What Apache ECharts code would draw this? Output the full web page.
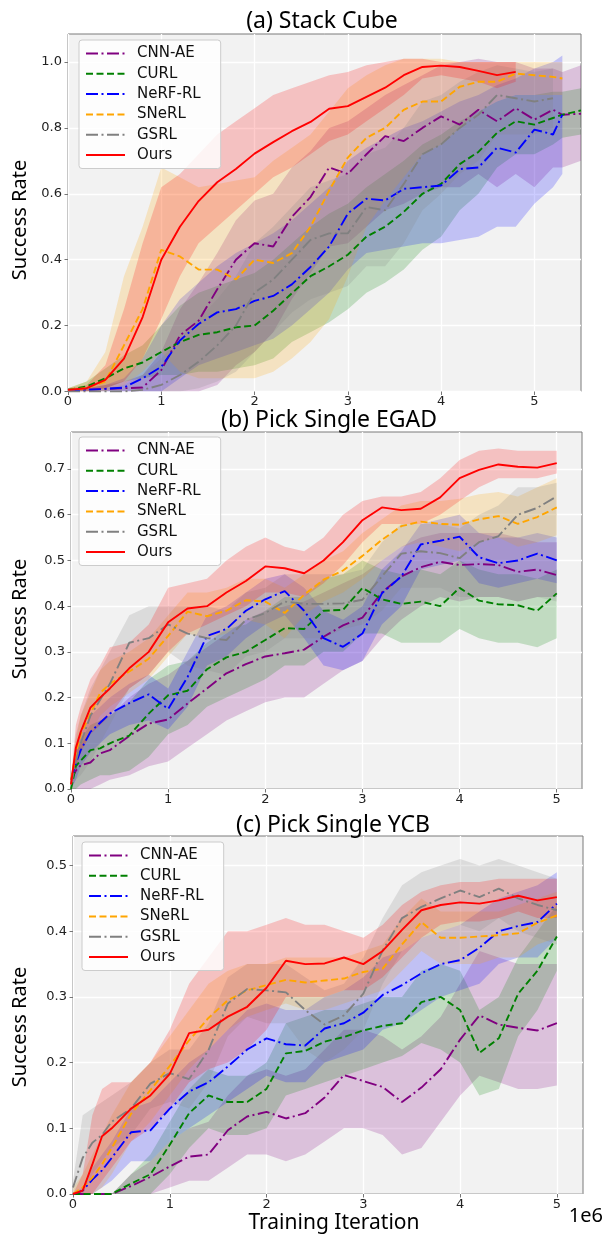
<!DOCTYPE html>
<html>
<head>
<meta charset="utf-8">
<script src="https://cdn.jsdelivr.net/npm/echarts@6/dist/echarts.min.js"></script>
<style>
html,body{margin:0;padding:0;background:#ffffff;}
#chart{width:605px;height:1234px;}
</style>
</head>
<body>
<div id="chart"></div>
<script>
// ---------- shared ----------
const NAMES = ['CNN-AE', 'CURL', 'NeRF-RL', 'SNeRL', 'GSRL', 'Ours'];
const TITLES = ['(a) Stack Cube', '(b) Pick Single EGAD', '(c) Pick Single YCB'];
const X_TICKS = [0, 1, 2, 3, 4, 5];
const Y_TICKS_A = [0, 0.2, 0.4, 0.6, 0.8, 1.0];
const Y_TICKS_B = [0, 0.1, 0.2, 0.3, 0.4, 0.5, 0.6, 0.7];
const Y_TICKS_C = [0, 0.1, 0.2, 0.3, 0.4, 0.5];

// ---------- (a) Stack Cube  (x in 1e6 iterations) ----------
const A_X = [0,0.2,0.4,0.6,0.8,1.0,1.2,1.4,1.6,1.8,2.0,2.2,2.4,2.6,2.8,3.0,3.2,3.4,3.6,3.8,4.0,4.2,4.4,4.6,4.8,5.0,5.2,5.3,5.5];
const A_CNN    = [0.005,0.005,0.008,0.01,0.012,0.065,0.17,0.215,0.31,0.40,0.45,0.44,0.53,0.59,0.68,0.66,0.72,0.775,0.76,0.80,0.835,0.81,0.855,0.82,0.86,0.825,0.855,0.84,0.843];
const A_CNN_HI = [0.01,0.01,0.02,0.03,0.05,0.12,0.25,0.33,0.42,0.52,0.58,0.6,0.68,0.73,0.8,0.82,0.86,0.9,0.93,0.96,0.99,1.0,1.01,1.0,1.0,0.98,0.98,0.97,0.99];
const A_CNN_LO = [0,0,0,0,0,0,0,0,0.02,0.08,0.12,0.18,0.28,0.36,0.44,0.45,0.5,0.55,0.57,0.6,0.62,0.62,0.66,0.62,0.66,0.62,0.68,0.68,0.7];
const A_CURL    = [0.005,0.015,0.04,0.07,0.088,0.12,0.15,0.172,0.18,0.195,0.2,0.245,0.298,0.35,0.38,0.415,0.47,0.5,0.545,0.6,0.63,0.69,0.727,0.785,0.82,0.81,0.83,0.84,0.853];
const A_CURL_HI = [0.01,0.03,0.07,0.11,0.14,0.2,0.26,0.3,0.32,0.34,0.36,0.4,0.45,0.5,0.54,0.57,0.62,0.66,0.7,0.75,0.78,0.82,0.85,0.88,0.9,0.9,0.91,0.91,0.92];
const A_CURL_LO = [0,0,0.01,0.03,0.04,0.05,0.05,0.06,0.06,0.07,0.08,0.1,0.15,0.18,0.21,0.25,0.3,0.33,0.37,0.43,0.47,0.55,0.6,0.68,0.72,0.72,0.75,0.77,0.78];
const A_NERF    = [0.003,0.005,0.008,0.012,0.04,0.075,0.155,0.205,0.24,0.25,0.275,0.29,0.325,0.378,0.44,0.54,0.585,0.58,0.615,0.62,0.625,0.675,0.68,0.74,0.725,0.795,0.78,0.84];
const A_NERF_HI = [0.01,0.01,0.02,0.04,0.1,0.2,0.28,0.33,0.38,0.42,0.45,0.48,0.52,0.57,0.62,0.7,0.74,0.77,0.8,0.82,0.85,0.88,0.9,0.93,0.95,0.98,1.0,1.02];
const A_NERF_LO = [0,0,0,0,0,0,0.04,0.08,0.1,0.12,0.14,0.16,0.2,0.25,0.3,0.37,0.42,0.43,0.44,0.45,0.45,0.46,0.47,0.5,0.5,0.57,0.62,0.66];
const A_SNERL    = [0.005,0.01,0.03,0.14,0.25,0.43,0.41,0.37,0.37,0.34,0.40,0.39,0.42,0.5,0.61,0.71,0.77,0.80,0.855,0.88,0.88,0.925,0.94,0.94,0.965,0.96,0.955,0.95];
const A_SNERL_HI = [0.01,0.03,0.12,0.35,0.5,0.68,0.65,0.62,0.63,0.64,0.65,0.7,0.74,0.78,0.85,0.92,0.96,0.99,1.01,1.01,1.01,1.0,1.0,1.0,1.0,1.0,1.0,1.0];
const A_SNERL_LO = [0,0,0,0.02,0.06,0.12,0.06,0.04,0.04,0.04,0.04,0.06,0.1,0.15,0.22,0.35,0.5,0.58,0.65,0.72,0.75,0.8,0.85,0.88,0.9,0.9,0.9,0.9];
const A_GSRL    = [0,0,0,0,0.005,0.02,0.05,0.09,0.14,0.2,0.3,0.34,0.40,0.46,0.48,0.48,0.56,0.55,0.63,0.72,0.75,0.8,0.84,0.9,0.89,0.88,0.89];
const A_GSRL_HI = [0,0,0.01,0.02,0.05,0.1,0.16,0.22,0.28,0.35,0.45,0.5,0.56,0.62,0.64,0.66,0.72,0.74,0.8,0.88,0.9,0.94,0.97,0.99,0.98,0.97,0.98];
const A_GSRL_LO = [0,0,0,0,0,0,0,0.01,0.03,0.06,0.12,0.18,0.24,0.28,0.3,0.32,0.38,0.38,0.45,0.55,0.6,0.66,0.7,0.78,0.78,0.78,0.8];
const A_OURS    = [0.005,0.01,0.035,0.10,0.226,0.40,0.50,0.578,0.635,0.675,0.722,0.757,0.79,0.818,0.858,0.866,0.894,0.922,0.96,0.985,0.989,0.985,0.973,0.96,0.97];
const A_OURS_HI = [0.01,0.02,0.08,0.25,0.45,0.62,0.66,0.72,0.78,0.82,0.86,0.9,0.92,0.94,0.96,0.97,0.99,1.0,1.01,1.01,1.0,1.0,1.0,1.0,1.0];
const A_OURS_LO = [0,0,0.01,0.03,0.1,0.22,0.35,0.45,0.5,0.55,0.6,0.65,0.68,0.72,0.76,0.78,0.82,0.86,0.9,0.95,0.96,0.95,0.94,0.92,0.94];

// ---------- (b) Pick Single EGAD ----------
const B_X = [0,0.05,0.1,0.2,0.3,0.4,0.6,0.8,1.0,1.2,1.4,1.6,1.8,2.0,2.2,2.4,2.6,2.8,3.0,3.2,3.4,3.6,3.8,4.0,4.2,4.4,4.6,4.8,5.0];
const B_CNN    = [0.02,0.04,0.052,0.058,0.078,0.085,0.116,0.143,0.152,0.187,0.22,0.253,0.273,0.29,0.297,0.305,0.333,0.358,0.375,0.43,0.465,0.485,0.497,0.49,0.492,0.49,0.475,0.48,0.468];
const B_CNN_HI = [0.03,0.09,0.1,0.12,0.15,0.16,0.2,0.23,0.25,0.28,0.31,0.34,0.37,0.39,0.4,0.41,0.43,0.45,0.47,0.5,0.53,0.55,0.56,0.56,0.56,0.56,0.55,0.54,0.54];
const B_CNN_LO = [0,0,0,0,0.01,0.02,0.03,0.05,0.06,0.09,0.12,0.15,0.17,0.19,0.2,0.2,0.23,0.26,0.28,0.33,0.37,0.4,0.42,0.41,0.42,0.42,0.41,0.42,0.42];
const B_CURL    = [0,0.05,0.062,0.085,0.089,0.1,0.117,0.165,0.205,0.215,0.262,0.288,0.3,0.326,0.352,0.35,0.39,0.392,0.44,0.415,0.405,0.41,0.4,0.44,0.412,0.404,0.402,0.39,0.428];
const B_CURL_HI = [0.01,0.09,0.11,0.14,0.15,0.16,0.19,0.24,0.27,0.28,0.32,0.35,0.36,0.39,0.42,0.42,0.46,0.47,0.5,0.48,0.47,0.48,0.47,0.5,0.48,0.47,0.47,0.46,0.48];
const B_CURL_LO = [0,0,0.01,0.02,0.03,0.03,0.04,0.07,0.12,0.14,0.18,0.2,0.22,0.24,0.27,0.27,0.3,0.3,0.34,0.34,0.32,0.32,0.32,0.35,0.33,0.32,0.32,0.31,0.33];
const B_NERF    = [0.02,0.056,0.085,0.125,0.145,0.165,0.188,0.207,0.175,0.245,0.335,0.35,0.39,0.415,0.433,0.39,0.33,0.311,0.34,0.428,0.465,0.535,0.543,0.552,0.507,0.494,0.5,0.515,0.5];
const B_NERF_HI = [0.03,0.09,0.12,0.16,0.18,0.2,0.23,0.25,0.22,0.3,0.38,0.4,0.43,0.46,0.47,0.44,0.39,0.37,0.4,0.48,0.52,0.58,0.59,0.6,0.56,0.55,0.55,0.56,0.55];
const B_NERF_LO = [0,0.02,0.05,0.08,0.1,0.12,0.14,0.15,0.13,0.18,0.27,0.29,0.33,0.36,0.38,0.33,0.27,0.26,0.28,0.36,0.4,0.48,0.49,0.5,0.45,0.44,0.45,0.46,0.45];
const B_SNERL    = [0.02,0.078,0.12,0.165,0.21,0.23,0.257,0.285,0.335,0.388,0.378,0.39,0.413,0.41,0.385,0.425,0.458,0.478,0.51,0.545,0.575,0.585,0.58,0.578,0.59,0.597,0.58,0.595,0.616];
const B_SNERL_HI = [0.03,0.11,0.16,0.21,0.26,0.28,0.3,0.33,0.38,0.43,0.43,0.44,0.46,0.46,0.44,0.47,0.5,0.52,0.56,0.59,0.62,0.63,0.63,0.635,0.645,0.65,0.64,0.66,0.68];
const B_SNERL_LO = [0,0.05,0.08,0.12,0.16,0.18,0.21,0.24,0.29,0.34,0.33,0.34,0.37,0.36,0.33,0.38,0.41,0.43,0.46,0.5,0.53,0.54,0.53,0.52,0.54,0.55,0.53,0.54,0.555];
const B_GSRL    = [0.01,0.06,0.1,0.16,0.195,0.23,0.32,0.33,0.36,0.34,0.33,0.326,0.37,0.385,0.41,0.405,0.405,0.406,0.414,0.465,0.515,0.52,0.516,0.505,0.54,0.553,0.6,0.615,0.64];
const B_GSRL_HI = [0.02,0.12,0.16,0.22,0.26,0.3,0.38,0.4,0.4,0.4,0.4,0.39,0.43,0.44,0.47,0.47,0.47,0.47,0.48,0.54,0.58,0.58,0.58,0.57,0.6,0.62,0.66,0.66,0.67];
const B_GSRL_LO = [0,0.02,0.03,0.06,0.1,0.14,0.22,0.25,0.3,0.27,0.26,0.25,0.29,0.3,0.33,0.33,0.33,0.35,0.36,0.39,0.44,0.44,0.44,0.42,0.42,0.42,0.41,0.42,0.41];
const B_OURS    = [0.01,0.09,0.125,0.178,0.2,0.22,0.264,0.30,0.365,0.395,0.40,0.43,0.455,0.487,0.483,0.472,0.50,0.54,0.588,0.616,0.61,0.613,0.638,0.68,0.698,0.71,0.705,0.703,0.713];
const B_OURS_HI = [0.02,0.14,0.18,0.24,0.27,0.31,0.32,0.36,0.44,0.45,0.46,0.5,0.53,0.55,0.53,0.52,0.55,0.6,0.63,0.64,0.64,0.65,0.68,0.72,0.74,0.745,0.74,0.74,0.74];
const B_OURS_LO = [0,0.04,0.08,0.12,0.14,0.16,0.22,0.25,0.3,0.34,0.36,0.38,0.40,0.43,0.43,0.42,0.45,0.49,0.54,0.58,0.58,0.58,0.6,0.63,0.66,0.68,0.68,0.68,0.69];

// ---------- (c) Pick Single YCB ----------
const C_X = [0,0.1,0.2,0.3,0.4,0.6,0.8,1.0,1.2,1.4,1.6,1.8,2.0,2.2,2.4,2.6,2.8,3.0,3.2,3.4,3.6,3.8,4.0,4.2,4.4,4.6,4.8,5.0];
const C_CNN    = [0,0,0,0,0,0.012,0.026,0.042,0.057,0.06,0.097,0.118,0.125,0.115,0.123,0.147,0.181,0.172,0.163,0.14,0.162,0.19,0.235,0.272,0.258,0.253,0.249,0.26];
const C_CNN_HI = [0,0,0,0,0,0.03,0.05,0.08,0.1,0.11,0.15,0.18,0.19,0.18,0.19,0.22,0.25,0.25,0.24,0.22,0.24,0.27,0.32,0.37,0.36,0.35,0.35,0.35];
const C_CNN_LO = [0,0,0,0,0,0,0,0.01,0.02,0.02,0.04,0.06,0.06,0.05,0.06,0.08,0.1,0.1,0.09,0.06,0.07,0.11,0.15,0.18,0.17,0.16,0.16,0.165];
const C_CURL    = [0,0,0,0,0,0.016,0.03,0.075,0.123,0.15,0.14,0.14,0.16,0.214,0.218,0.232,0.239,0.249,0.256,0.26,0.292,0.3,0.28,0.215,0.237,0.305,0.34,0.392];
const C_CURL_HI = [0,0,0,0,0,0.03,0.06,0.11,0.16,0.19,0.18,0.18,0.2,0.26,0.27,0.28,0.28,0.29,0.3,0.3,0.34,0.35,0.34,0.28,0.3,0.36,0.4,0.44];
const C_CURL_LO = [0,0,0,0,0,0,0,0.03,0.07,0.1,0.09,0.09,0.1,0.15,0.16,0.17,0.18,0.19,0.2,0.21,0.23,0.22,0.2,0.15,0.16,0.24,0.28,0.34];
const C_NERF    = [0,0.005,0.022,0.036,0.055,0.094,0.097,0.13,0.156,0.17,0.194,0.22,0.237,0.228,0.226,0.252,0.26,0.276,0.303,0.318,0.336,0.35,0.356,0.375,0.4,0.408,0.414,0.442];
const C_NERF_HI = [0,0.01,0.04,0.06,0.08,0.13,0.14,0.17,0.2,0.22,0.25,0.28,0.29,0.28,0.28,0.3,0.31,0.33,0.36,0.37,0.39,0.4,0.41,0.43,0.45,0.46,0.47,0.49];
const C_NERF_LO = [0,0,0,0.01,0.02,0.05,0.05,0.08,0.1,0.12,0.14,0.16,0.18,0.17,0.17,0.2,0.21,0.22,0.25,0.26,0.28,0.3,0.31,0.32,0.35,0.36,0.36,0.39];
const C_SNERL    = [0,0.01,0.025,0.045,0.07,0.122,0.158,0.195,0.234,0.268,0.295,0.31,0.318,0.326,0.322,0.325,0.328,0.338,0.343,0.38,0.414,0.39,0.39,0.392,0.394,0.397,0.413,0.424];
const C_SNERL_HI = [0.01,0.03,0.06,0.09,0.12,0.17,0.2,0.24,0.28,0.32,0.34,0.35,0.35,0.36,0.36,0.36,0.36,0.37,0.38,0.42,0.45,0.43,0.43,0.43,0.43,0.44,0.45,0.46];
const C_SNERL_LO = [0,0,0,0.01,0.03,0.08,0.11,0.15,0.19,0.22,0.25,0.27,0.28,0.29,0.28,0.28,0.29,0.3,0.31,0.34,0.37,0.35,0.35,0.35,0.36,0.36,0.38,0.39];
const C_GSRL    = [0.01,0.055,0.078,0.09,0.11,0.13,0.168,0.184,0.175,0.219,0.29,0.312,0.31,0.307,0.28,0.258,0.272,0.305,0.371,0.42,0.437,0.45,0.462,0.452,0.465,0.45,0.44,0.432];
const C_GSRL_HI = [0.02,0.12,0.13,0.14,0.15,0.17,0.2,0.22,0.22,0.26,0.33,0.35,0.35,0.35,0.33,0.31,0.32,0.36,0.42,0.47,0.49,0.5,0.51,0.5,0.51,0.5,0.49,0.48];
const C_GSRL_LO = [0,0,0.03,0.05,0.07,0.09,0.13,0.14,0.13,0.17,0.24,0.27,0.26,0.26,0.22,0.2,0.22,0.25,0.32,0.37,0.39,0.4,0.41,0.4,0.42,0.4,0.39,0.38];
const C_OURS    = [0,0.005,0.045,0.088,0.1,0.13,0.15,0.183,0.245,0.25,0.27,0.285,0.314,0.355,0.35,0.351,0.36,0.35,0.37,0.402,0.432,0.44,0.444,0.442,0.447,0.454,0.447,0.452];
const C_OURS_HI = [0,0.03,0.12,0.16,0.17,0.17,0.2,0.25,0.32,0.36,0.4,0.4,0.41,0.42,0.41,0.41,0.4,0.39,0.41,0.44,0.46,0.47,0.475,0.475,0.48,0.48,0.48,0.48];
const C_OURS_LO = [0,0,0,0.02,0.04,0.08,0.1,0.13,0.17,0.19,0.2,0.22,0.25,0.3,0.3,0.3,0.31,0.31,0.33,0.36,0.39,0.41,0.415,0.415,0.42,0.43,0.42,0.42];

// ---------- styling ----------
const COLORS = ['#800080', '#008000', '#0000ff', '#ffa500', '#808080', '#ff0000'];
const BAND_FILL = ['rgba(128,0,128,0.2)', 'rgba(0,128,0,0.2)', 'rgba(0,0,255,0.2)',
                   'rgba(255,165,0,0.2)', 'rgba(128,128,128,0.2)', 'rgba(255,0,0,0.2)'];
const DASHDOT = [12, 3.5, 2, 3.5];
const DASHED = [7, 3.5];
const LINE_TYPES = [DASHDOT, DASHED, DASHDOT, DASHED, DASHDOT, 'solid'];

const PANELS = [
  { x: A_X, mean: [A_CNN, A_CURL, A_NERF, A_SNERL, A_GSRL, A_OURS],
    lo: [A_CNN_LO, A_CURL_LO, A_NERF_LO, A_SNERL_LO, A_GSRL_LO, A_OURS_LO],
    hi: [A_CNN_HI, A_CURL_HI, A_NERF_HI, A_SNERL_HI, A_GSRL_HI, A_OURS_HI],
    grid: { left: 68, top: 34, width: 513, height: 357.5 }, xmax: 5.5, ymax: 1.085, yint: 0.2, yticks: Y_TICKS_A,
    legend: { left: 79, top: 40 }, titleX: 322, titleY: 21, ylabelY: 220 },
  { x: B_X, mean: [B_CNN, B_CURL, B_NERF, B_SNERL, B_GSRL, B_OURS],
    lo: [B_CNN_LO, B_CURL_LO, B_NERF_LO, B_SNERL_LO, B_GSRL_LO, B_OURS_LO],
    hi: [B_CNN_HI, B_CURL_HI, B_NERF_HI, B_SNERL_HI, B_GSRL_HI, B_OURS_HI],
    grid: { left: 71, top: 432, width: 511, height: 357 }, xmax: 5.26, ymax: 0.781, yint: 0.1, yticks: Y_TICKS_B,
    legend: { left: 79, top: 437 }, titleX: 329, titleY: 420, ylabelY: 619 },
  { x: C_X, mean: [C_CNN, C_CURL, C_NERF, C_SNERL, C_GSRL, C_OURS],
    lo: [C_CNN_LO, C_CURL_LO, C_NERF_LO, C_SNERL_LO, C_GSRL_LO, C_OURS_LO],
    hi: [C_CNN_HI, C_CURL_HI, C_NERF_HI, C_SNERL_HI, C_GSRL_HI, C_OURS_HI],
    grid: { left: 73, top: 836, width: 510, height: 358 }, xmax: 5.27, ymax: 0.545, yint: 0.1, yticks: Y_TICKS_C,
    legend: { left: 82, top: 842 }, titleX: 333, titleY: 825, ylabelY: 1027 }
];

const grids = [], xAxes = [], yAxes = [], legends = [], series = [], graphics = [];

PANELS.forEach(function (p, gi) {
  grids.push(Object.assign({ show: true, backgroundColor: '#f2f2f2', borderColor: '#7a7a7a', borderWidth: 1 }, p.grid));
  xAxes.push({
    type: 'value', gridIndex: gi, min: 0, max: p.xmax, interval: 1,
    axisLine: { show: false },
    axisTick: { show: true, length: 3.5, lineStyle: { color: '#777' }, customValues: X_TICKS },
    axisLabel: { fontFamily: 'DejaVu Sans', fontSize: 13, color: '#222', margin: 4, customValues: X_TICKS,
                 formatter: function (v) { return String(v); } },
    splitLine: { show: true, lineStyle: { color: '#ffffff', width: 1.3 } }
  });
  yAxes.push({
    type: 'value', gridIndex: gi, min: 0, max: p.ymax, interval: p.yint,
    axisLine: { show: false },
    axisTick: { show: true, length: 3.5, lineStyle: { color: '#777' }, customValues: p.yticks },
    axisLabel: { fontFamily: 'DejaVu Sans', fontSize: 13, color: '#222', margin: 6, customValues: p.yticks,
                 formatter: function (v) { return v.toFixed(1); } },
    splitLine: { show: true, lineStyle: { color: '#ffffff', width: 1.3 } }
  });
  legends.push({
    data: NAMES, orient: 'vertical', left: p.legend.left, top: p.legend.top,
    itemWidth: 39, itemHeight: 14, itemGap: 5.3, padding: [6, 20, 6, 6],
    backgroundColor: 'rgba(255,255,255,0.82)', borderColor: '#cccccc', borderWidth: 1, borderRadius: 3,
    itemStyle: { opacity: 0, borderWidth: 0 },
    textStyle: { fontFamily: 'DejaVu Sans', fontSize: 15, color: '#111', padding: [0, 0, 0, 7] },
    selectedMode: false
  });
  for (let k = 0; k < NAMES.length; k++) {
    const xs = p.x, lo = p.lo[k], hi = p.hi[k], mean = p.mean[k];
    series.push({
      type: 'custom', xAxisIndex: gi, yAxisIndex: gi, silent: true, clip: true,
      data: [[xs[0], lo[0]]],
      renderItem: function (params, api) {
        const pts = [];
        for (let i = 0; i < hi.length; i++) pts.push(api.coord([xs[i], hi[i]]));
        for (let i = lo.length - 1; i >= 0; i--) pts.push(api.coord([xs[i], lo[i]]));
        return { type: 'polygon', shape: { points: pts }, style: { fill: BAND_FILL[k], stroke: null } };
      }
    });
    series.push({
      type: 'line', name: NAMES[k], xAxisIndex: gi, yAxisIndex: gi,
      data: mean.map(function (v, i) { return [xs[i], v]; }),
      symbol: 'none', showSymbol: false, clip: true,
      lineStyle: { color: COLORS[k], width: 1.9, type: LINE_TYPES[k] },
      itemStyle: { color: COLORS[k] }
    });
  }
  graphics.push({
    type: 'text', x: p.titleX, y: p.titleY,
    style: { text: TITLES[gi], fontFamily: 'Noto Sans', fontSize: 23, fill: '#000', align: 'center', verticalAlign: 'middle' }
  });
  graphics.push({
    type: 'text', x: 20, y: p.ylabelY, rotation: Math.PI / 2,
    style: { text: 'Success Rate', fontFamily: 'Noto Sans', fontSize: 20, fill: '#000', align: 'center', verticalAlign: 'middle' }
  });
});

graphics.push({
  type: 'text', x: 334, y: 1223,
  style: { text: 'Training Iteration', fontFamily: 'Noto Sans', fontSize: 21, fill: '#000', align: 'center', verticalAlign: 'middle' }
});
graphics.push({
  type: 'text', x: 603, y: 1216,
  style: { text: '1e6', fontFamily: 'Noto Sans', fontSize: 20, fill: '#000', align: 'right', verticalAlign: 'middle' }
});

const chart = echarts.init(document.getElementById('chart'), null, { renderer: 'canvas' });
chart.setOption({
  animation: false,
  backgroundColor: '#ffffff',
  grid: grids, xAxis: xAxes, yAxis: yAxes, legend: legends,
  series: series, graphic: graphics
});
</script>
</body>
</html>
